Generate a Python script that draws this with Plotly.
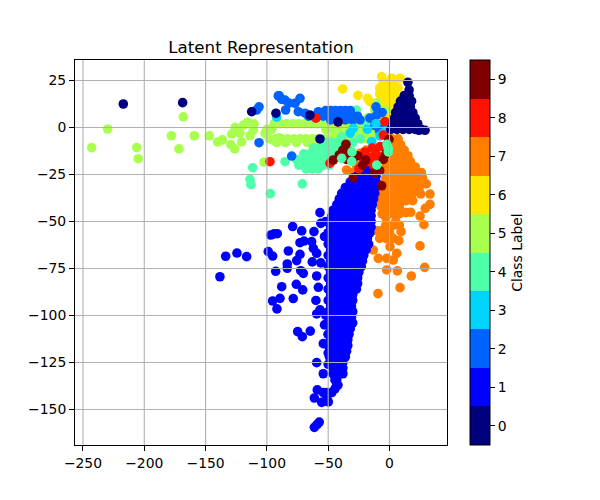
import plotly.graph_objects as go

title = "Latent Representation"
cbar_title = "Class Label"
class_ticks = [0, 1, 2, 3, 4, 5, 6, 7, 8, 9]
class_colors = ["#00007f", "#0000ff", "#0063ff", "#00d4ff", "#4effa9",
                "#a9ff4e", "#ffe600", "#ff7e00", "#ff1300", "#7f0000"]
x_ticks = [-250, -200, -150, -100, -50, 0]
y_ticks = [25, 0, -25, -50, -75, -100, -125, -150]

c6_x = [-6.4, 1.8, 8.6, -38.2, -25.7, -17.8, -15.9, -12, -10]
c6_y = [27, 26.2, 26.2, 20.5, 17.1, 15.5, 13.7, 11, 13]
c6_rows = [(24, [-5, -1, 3]), (21, [-8, -4, 0, 4, 7]), (18, [-8, -4, 0, 4]), (15, [-7, -3, 1, 5]),
           (12, [-9, -5, -1, 3, 5]), (9, [-8, -4, 0, 3]), (6, [-7, -3, 1]), (3, [-5, -1, 2])]

c5_x = [-229.9, -242.9, -206.2, -204.9, -168.2, -177.9, -171.7, -159.2, -147, -140.1, -136.3, -129.5, -126.3,
        -128.7, -126, -122, -119.2, -115.7, -110.5, -111.1, -113.8, -120.6, -101.5, -99, -95, -93.4, -102.4, -90,
        -3, -10, -12, -8, -14, -18]
c5_y = [-0.8, -10.7, -10.7, -16.6, 5.7, -4.4, -11.4, -4.4, -4.4, -7.7, -6.6, -9.1, -11.4,
        -3.5, 0.1, -3.1, 1.3, 2.8, 1.9, -1.3, -4.4, -7.6, -3.1, -1, -6.7, 1.9, -18.4, -5.5,
        9.3, 13, 9, 6, 3, 5]
c5_rows = [(2, [-94, -89, -84, -79, -74, -69, -64, -59, -54, -49, -44, -39, -34, -29, -24, -19, -14]),
           (-1, [-100, -96, -52, -47, -42, -37, -32, -27, -22, -17, -12]),
           (-6, [-98, -93, -88, -83, -78, -73, -68, -63, -58, -53, -48, -43, -38, -33, -28, -23, -18]),
           (-4, [-45, -40, -35, -30, -25, -20, -15, -11]),
           (-8, [-92, -85, -76, -67, -60, -50])]

c4_x = [-111.6, -113.8, -113, -97.2, -71.1, -85.2, -38, -34, -30, -27, -14.5, -20, -24, -39]
c4_y = [-21.4, -27.6, -30.4, -35.2, -30, -18.2, -11, -10, -8, 9.3, 4, 3, -6, -5]
c4_rows = [(-8, [-52, -47, -43]), (-11, [-62, -57, -52, -47, -42]), (-14, [-70, -65, -60, -55, -50, -45]),
           (-17, [-76, -71, -66, -61, -56, -51, -46]), (-20, [-74, -69, -64, -59, -54, -49]),
           (-22, [-68, -63, -58])]

c2_x = [-89.9, -85.2, -77, -73, -84.7, -74.4, -68.9, -58, -79.8, -106.4, -106.4, -108.3, -90.7, -88, -82, -66, -62,
        -10.4, -7.7, -4, -12, -8, -11, -6, -16]
c2_y = [16.8, 14.6, 12.9, 15.5, 9.3, 8.4, 7.6, 8.4, -15.2, -8.1, 11, 9.3, 16.8, 15, 13, 6, 6,
        6.6, 1.3, 1.3, 1, -2, 11, 8, 5]
c2_rows = [(9, [-52, -48, -44, -40, -36, -32]), (6, [-54, -50, -46, -42, -38, -34, -30, -26]),
           (4, [-48, -42, -36, -30, -24])]

c3_x = [-18, -1, -7.7, -14.5, -29.5, -11, -32, -92, -5]
c3_y = [-1, 0.4, -4.5, -7.5, -0.4, 2, -3, 5.5, -3]

c7_x = [-9.4, 8.6, 17.8, 28.7, -2.3, 6.4, 24.9, 7.7, 28.1, 24.9, 29.2, 33, 33, 25.4, 18.9, 17.3, 13.2, 9.4, 5.9, 0.4, 3.1, -2.3,
        -9.1, -13.2, -7, -10, -6, 0, 5, -3, -24, -35, -19, -29, -27, -30, -15]
c7_y = [-88.4, -85.2, -79, -74.4, -75.8, -76.3, -63, -60.2, -51.7, -47.1, -43, -40.9, -35.4, -35.4, -38.9, -45.1, -45.3, -55.4, -66.9, -63.4, -70.5, -69.6,
        -69.6, -65.2, -55, -55, -58, -56, -50, -48, -13.7, -22.6, -12, -15, -20, -24, -21]
c7_rows = [(-6, [2, 7]), (-9, [-1, 4, 9]), (-12, [-2, 3, 8, 12]), (-15, [-2, 3, 8, 13, 15]),
           (-18, [-3, 2, 7, 12, 17]), (-21, [-3, 2, 7, 12, 17, 21]), (-24, [-3, 2, 7, 12, 17, 22, 26]),
           (-27, [-3, 2, 7, 12, 17, 22, 27]), (-30, [-5, 0, 5, 10, 15, 20, 25, 30]),
           (-33, [-6, -1, 4, 9, 14, 19, 24]), (-36, [-7, -2, 3, 8, 13, 18]), (-39, [-7, -2, 3, 8, 13]),
           (-42, [-7, -2, 3, 8]), (-46, [-6, -1, 4, 8]), (-52, [-3, 3, 8]), (-59, [-8, -3, 3])]

c1_x = [-56.7, -79, -71.6, -61.6, -96.9, -94.2, -91.5, -73, -69.7, -63.5, -133.6, -124.4, -116.5, -138.3, -98.9, -95.3, -82.5,
        -73, -75.7, -83.4, -83.4, -92.8, -72.4, -70.3, -63, -59.4, -62.1, -59.4, -76, -70.8, -87.9, -89.3, -95.3, -91.8, -78.5,
        -59.4, -56.7, -74.9, -71.1, -64.6, -59.4, -54, -44.5, -58.9, -61.3, -55.3, -49.9, -54, -61.3, -57.3, -59, -56, -52, -53,
        -38.5, -44.5, -43, -50, -50, -50, -56, -58, -60, -52, -53, -54]
c1_y = [-45.3, -52.7, -55, -55.4, -57.2, -56.6, -56.5, -61.3, -60.4, -60.7, -68.5, -66.8, -68.7, -79.4, -66, -68.4, -65.7,
        -67.5, -70.8, -72.6, -74.9, -76.5, -76.2, -77.6, -71.5, -79, -64.3, -66.9, -83.4, -86.4, -84.7, -90.9, -92.3, -96.5, -91,
        -99.2, -97, -108.6, -111.3, -108.3, -125.1, -131, -139, -139.6, -143.9, -146.2, -146, -141, -159.5, -156.7, -158, -51, -50, -58,
        -130, -134.3, -137, -110, -120, -126, -72, -85, -92, -100, -105, -115]
c1_rows = [(-21, [-16]), (-23, [-19, -14]), (-26, [-27, -21, -15, -11]), (-29, [-32, -27, -21, -15, -11]),
           (-32, [-36, -30, -24, -18, -12]), (-35, [-39, -33, -27, -21, -15, -12]),
           (-38, [-41, -36, -30, -24, -18, -13]), (-41, [-43, -38, -32, -26, -20, -14]),
           (-44, [-46, -40, -34, -28, -22, -16, -15]), (-47, [-47, -41, -35, -29, -23, -17, -15]),
           (-50, [-50, -44, -38, -32, -26, -20, -15]), (-53, [-48, -42, -36, -30, -24, -18, -15]),
           (-56, [-50, -44, -38, -32, -26, -20, -16]), (-59, [-48, -42, -36, -30, -24, -18]),
           (-62, [-50, -44, -38, -32, -26, -20, -17]), (-65, [-48, -42, -36, -30, -24, -19]),
           (-68, [-50, -44, -38, -32, -26, -21]), (-71, [-48, -42, -36, -30, -24, -22]),
           (-74, [-50, -44, -38, -32, -26, -23]), (-77, [-48, -42, -36, -30, -25]),
           (-80, [-50, -44, -38, -32, -26]), (-83, [-48, -42, -36, -30, -26]),
           (-86, [-50, -44, -38, -32, -27]), (-89, [-48, -42, -36, -30]),
           (-92, [-50, -44, -38, -32, -30]), (-95, [-48, -42, -36, -31]),
           (-98, [-50, -44, -38, -32, -30]), (-101, [-48, -42, -36, -31]),
           (-104, [-50, -44, -38, -32, -30]), (-107, [-48, -42, -36, -32]),
           (-110, [-50, -44, -38, -33]), (-113, [-48, -42, -36, -34]),
           (-116, [-50, -44, -38, -34]), (-119, [-48, -42, -37, -35]),
           (-122, [-49, -44, -39, -36]), (-125, [-47, -42, -38]),
           (-128, [-46, -42, -38]), (-131, [-46, -41, -38]), (-134, [-43]),
           (-137, [-42]), (-141, [-47, -51]), (-144, [-51])]

c8_x = [-97.5, -18.6, -11.8, -7.7, -3.7, -48.5, -5, -15, -17, -10, -60, -42, -13, -20, -25, -22, -14, -12]
c8_y = [-18.2, -18.2, -12, -10.2, 3.1, -19, -4, -16, -18, -15, 5, 3, -20, -13, -22, -16, -11, -18]

c9_x = [-35.5, -41, -45.8, -29.5, -19.4, -0.4, -5, -6.4, -35, -38, -2, -8, -22, -30, -33, -26, -12, -3]
c9_y = [-8.9, -14.6, -17.3, -26.7, -17.3, -6.3, -17, -31, -17, -12, -9, -23, -20, -17, -13, -15, -24, -14]

c0_x = [15, 16, -217.1, -168.7, -112.4, -92.6, -64.8, -56.7, -42, 24, 29]
c0_y = [24, 20, 12.5, 13.2, 8.4, 7.6, 6.6, -6.1, 3, -1.5, -1.5]
c0_rows = [(17, [12, 16]), (14, [9, 13, 18]), (11, [7, 12, 17]), (8, [5, 9, 14, 19]), (5, [4, 8, 13, 18, 21]),
           (2, [3, 8, 13, 18, 23]), (-1, [1, 6, 11, 16, 21, 26])]

c4_top_x = [-30.6, -30.8, -10.4, -1, -39, -1, -2]
c4_top_y = [-13, -18, -20, -11, -16.4, -13, -9]


def rows_to_xy(rows):
    out_x, out_y = [], []
    for row_y, row_x in rows:
        out_x += row_x
        out_y += [row_y] * len(row_x)
    return out_x, out_y


groups = [(6, c6_x, c6_y, c6_rows), (5, c5_x, c5_y, c5_rows), (4, c4_x, c4_y, c4_rows), (2, c2_x, c2_y, c2_rows),
          (3, c3_x, c3_y, []), (7, c7_x, c7_y, c7_rows), (1, c1_x, c1_y, c1_rows), (8, c8_x, c8_y, []),
          (9, c9_x, c9_y, []), (0, c0_x, c0_y, c0_rows), (4, c4_top_x, c4_top_y, [])]

xs, ys, labels = [], [], []
for label, gx, gy, rows in groups:
    rx, ry = rows_to_xy(rows)
    xs += gx + rx
    ys += gy + ry
    labels += [label] * (len(gx) + len(rx))

n = len(class_colors)
colorscale = []
for i, col in enumerate(class_colors):
    colorscale += [[i / n, col], [(i + 1) / n, col]]

fig = go.Figure(go.Scatter(
    x=xs, y=ys, mode="markers", showlegend=False,
    marker=dict(
        size=9.6, color=labels, colorscale=colorscale, cmin=-0.5, cmax=9.5,
        line=dict(width=0),
        colorbar=dict(
            tickmode="array", tickvals=class_ticks, ticktext=[str(t) for t in class_ticks],
            x=1.063, xanchor="left", xpad=0, y=0.5, yanchor="middle", ypad=0, len=1,
            thickness=19.5, thicknessmode="pixels", lenmode="fraction",
            outlinecolor="black", outlinewidth=1, ticks="outside", ticklen=5, tickwidth=1,
            tickcolor="black", tickfont=dict(size=13.9, color="black"),
            title=dict(text=cbar_title, side="right", font=dict(size=13.9, color="black")),
        ),
    ),
))

shapes = []
for t in x_ticks:
    shapes.append(dict(type="line", xref="x", yref="paper", x0=t, x1=t, y0=0, y1=1,
                       layer="above", line=dict(color="#b0b0b0", width=1.1)))
for t in y_ticks:
    shapes.append(dict(type="line", xref="paper", yref="y", x0=0, x1=1, y0=t, y1=t,
                       layer="above", line=dict(color="#b0b0b0", width=1.1)))

axis_style = dict(showgrid=False, zeroline=False, showline=True, mirror=True,
                  linecolor="black", linewidth=1, ticks="outside", ticklen=5,
                  tickwidth=1, tickcolor="black", tickfont=dict(size=13.9, color="black"))

fig.update_layout(
    width=600, height=500, autosize=False,
    margin=dict(l=67, r=161, t=52, b=63),
    paper_bgcolor="white", plot_bgcolor="white",
    font=dict(family="DejaVu Sans", color="black"),
    title=dict(text=title, x=253 / 600, xanchor="center", y=1 - 39 / 500, yanchor="middle",
               font=dict(size=16.7, color="black")),
    xaxis=dict(range=[-256.5, 46.9], tickmode="array", tickvals=x_ticks, **axis_style),
    yaxis=dict(range=[-168.9, 35.9], tickmode="array", tickvals=y_ticks, **axis_style),
    shapes=shapes,
)

fig.write_html("out.html")
